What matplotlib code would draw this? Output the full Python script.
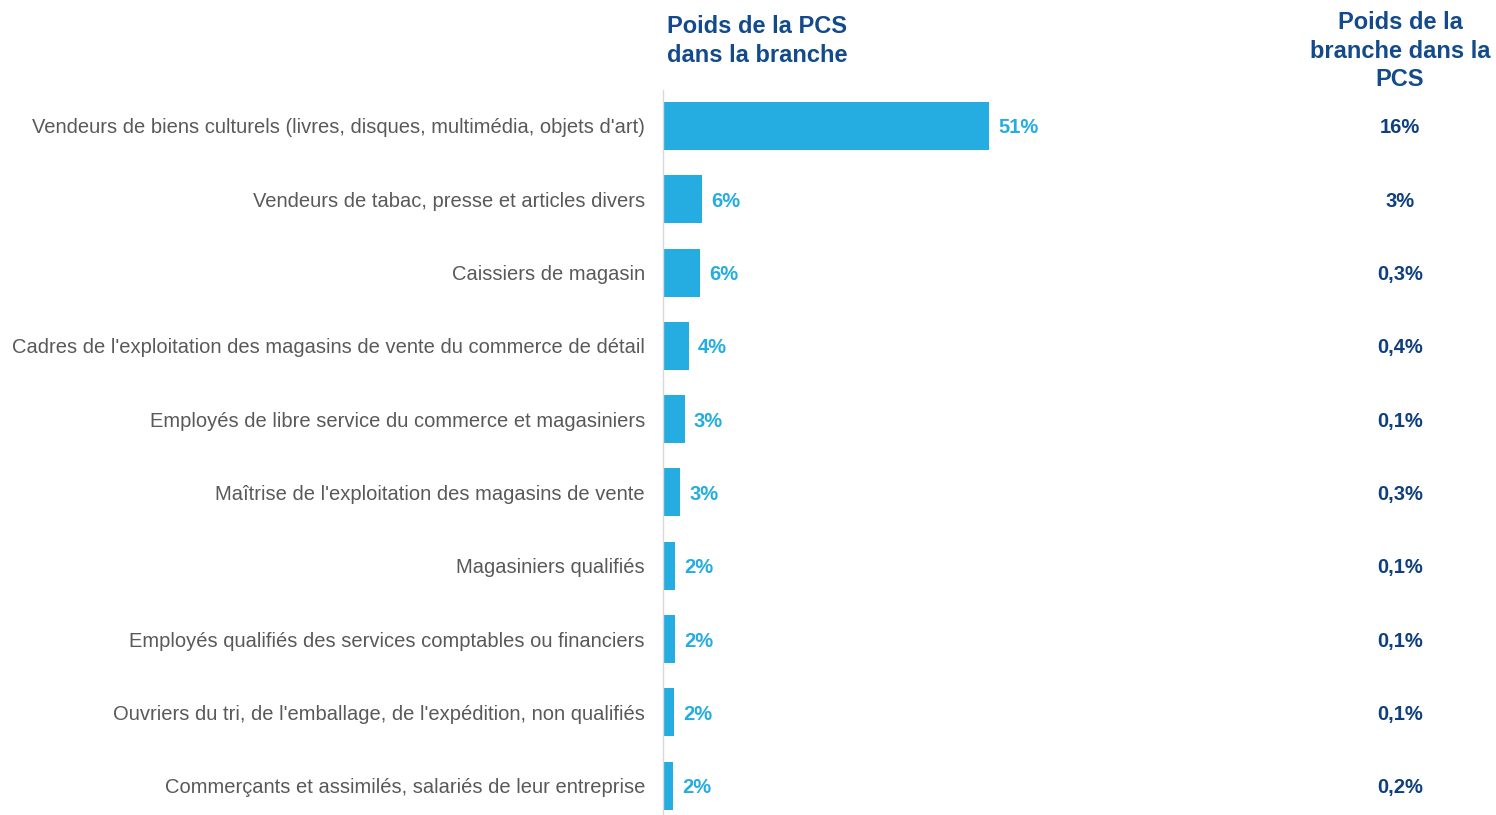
import matplotlib.pyplot as plt
import matplotlib.transforms as mtransforms

plt.rcParams["font.family"] = ["Liberation Sans", "DejaVu Sans"]

# Données
categories = [
    "Vendeurs de biens culturels (livres, disques, multimédia, objets d'art)",
    "Vendeurs de tabac, presse et articles divers",
    "Caissiers de magasin",
    "Cadres de l'exploitation des magasins de vente du commerce de détail",
    "Employés de libre service du commerce et magasiniers",
    "Maîtrise de l'exploitation des magasins de vente",
    "Magasiniers qualifiés",
    "Employés qualifiés des services comptables ou financiers",
    "Ouvriers du tri, de l'emballage, de l'expédition, non qualifiés",
    "Commerçants et assimilés, salariés de leur entreprise",
]
poids_pcs = [51, 6.1, 5.8, 4.1, 3.4, 2.7, 1.9, 1.9, 1.7, 1.6]
poids_pcs_labels = ["51%", "6%", "6%", "4%", "3%", "3%", "2%", "2%", "2%", "2%"]
poids_branche_labels = ["16%", "3%", "0,3%", "0,4%", "0,1%", "0,3%", "0,1%", "0,1%", "0,1%", "0,2%"]

bar_color = "#25ADE2"
navy = "#124A8C"

fig = plt.figure(figsize=(14.96, 8.15), dpi=100)
W, H = 1496, 815
ax = fig.add_axes([663 / W, 0, (1290 - 663) / W, (815 - 90) / H])

y = list(range(len(categories)))
ax.barh(y, poids_pcs, height=0.655, color=bar_color)
ax.set_xlim(0, (1290 - 663) / 6.39)
ax.set_ylim(9.4, -0.49)

ax.set_yticks(y)
ax.set_yticklabels(categories, fontsize=14.5, color="#595959")
ax.tick_params(axis="y", length=0, pad=13)
ax.set_xticks([])
for s in ["top", "right", "bottom"]:
    ax.spines[s].set_visible(False)
ax.spines["left"].set_color("#D9D9D9")
ax.spines["left"].set_linewidth(1)

# Étiquettes des barres
for yi, v, lab in zip(y, poids_pcs, poids_pcs_labels):
    ax.annotate(lab, (v, yi), xytext=(6.5, 0), textcoords="offset points",
                va="center_baseline", ha="left", fontsize=14.5,
                fontweight="bold", color=bar_color)

# Colonne de droite
trans = mtransforms.blended_transform_factory(fig.transFigure, ax.transData)
for yi, lab in zip(y, poids_branche_labels):
    ax.text(1400 / W, yi, lab, transform=trans, ha="center",
            va="center_baseline", fontsize=14.5, fontweight="bold",
            color="#0E3F7F")

# En-têtes
fig.text(667 / W, 1 - 41 / H, "Poids de la PCS\ndans la branche", ha="left",
         va="center", fontsize=17, fontweight="bold", color=navy,
         linespacing=1.3)
fig.text(1400 / W, 1 - 51 / H, "Poids de la\nbranche dans la\nPCS", ha="center",
         va="center", fontsize=17, fontweight="bold", color=navy,
         linespacing=1.3)

fig.savefig("out.png", dpi=100)
